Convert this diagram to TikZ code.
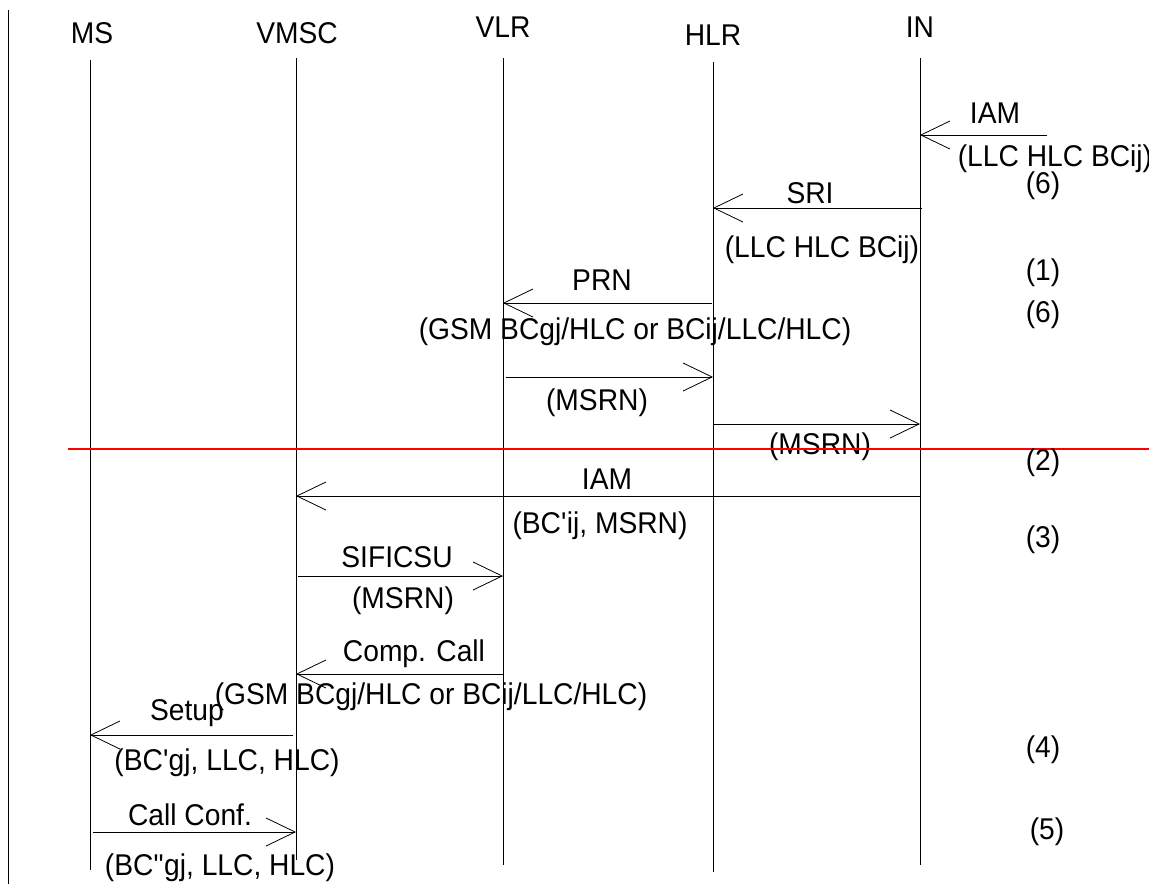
\documentclass[tikz,border=0pt]{standalone}
\usepackage{fontspec}
\setmainfont{Liberation Sans}[FakeStretch=0.94]
\usetikzlibrary{arrows.meta}

\begin{document}
\begin{tikzpicture}[x=1pt,y=-1pt,line width=0.8pt,
  font=\fontsize{30}{35}\selectfont,
  msg/.style={-{Straight Barb[length=29pt,width=28pt]}},
  lbl/.style={inner sep=0pt}]

\useasboundingbox (0,0) rectangle (1149,884);

\draw (8,10) -- (8,884);

% entities and their lifelines
\node[lbl] (ms) at (92,33) {MS};
\node[lbl] (vmsc) at (297,33) {VMSC};
\node[lbl] (vlr) at (503,27) {VLR};
\node[lbl] (hlr) at (713,35) {HLR};
\node[lbl] (in) at (920,27) {IN};

\coordinate (ms-t) at (90,60);   \coordinate (ms-b) at (90,870);
\coordinate (vmsc-t) at (296,58); \coordinate (vmsc-b) at (296,860);
\coordinate (vlr-t) at (503,58);  \coordinate (vlr-b) at (503,865);
\coordinate (hlr-t) at (713,62);  \coordinate (hlr-b) at (713,872);
\coordinate (in-t) at (920,58);   \coordinate (in-b) at (920,865);

\draw (ms-t) -- (ms-b);
\draw (vmsc-t) -- (vmsc-b);
\draw (vlr-t) -- (vlr-b);
\draw (hlr-t) -- (hlr-b);
\draw (in-t) -- (in-b);

% incoming IAM
\coordinate (iam-a) at (1047,135);
\draw[msg] (iam-a) -- (in-t |- iam-a);
\node[lbl] (iam) at (995,113) {IAM};
\node[lbl] (iam-p) at (1055,159) {(LLC HLC BCij)};

% SRI
\coordinate (sri-a) at (922,208);
\draw[msg] (sri-a) -- (hlr-t |- sri-a);
\node[lbl] (sri) at (810,193) {SRI};
\node[lbl] (sri-p) at (822,250) {(LLC HLC BCij)};

% PRN
\coordinate (prn-a) at (712,303);
\draw[msg] (prn-a) -- (vlr-t |- prn-a);
\node[lbl] (prn) at (602,280) {PRN};
\node[lbl] (prn-p) at (635,332) {(GSM BCgj/HLC or BCij/LLC/HLC)};

% MSRN back
\coordinate (ack1-a) at (506,377);
\draw[msg] (ack1-a) -- (hlr-t |- ack1-a);
\node[lbl] (ack1) at (597,403) {(MSRN)};

\coordinate (ack2-a) at (714,424);
\draw[msg] (ack2-a) -- (in-t |- ack2-a);
\node[lbl] (ack2) at (820,447) {(MSRN)};

% separator
\draw[red,line width=1.6pt] (68,449) -- (1149,449);

% IAM to VMSC
\coordinate (iam2-a) at (920,496);
\draw[msg] (iam2-a) -- (vmsc-t |- iam2-a);
\node[lbl] (iam2) at (607,479) {IAM};
\node[lbl] (iam2-p) at (600,526) {(BC\textquotesingle ij, MSRN)};

% SIFICSU
\coordinate (sif-a) at (298,576);
\draw[msg] (sif-a) -- (vlr-t |- sif-a);
\node[lbl] (sif) at (397,557) {SIFICSU};
\node[lbl] (sif-p) at (403,601) {(MSRN)};

% Comp. Call
\coordinate (cc-a) at (503,674);
\draw[msg] (cc-a) -- (vmsc-t |- cc-a);
\node[lbl] (cc) at (414,654) {Comp. Call};
\node[lbl] (cc-p) at (431,697) {(GSM BCgj/HLC or BCij/LLC/HLC)};

% Setup
\coordinate (su-a) at (293,735);
\draw[msg] (su-a) -- (ms-t |- su-a);
\node[lbl] (su) at (187,713) {Setup};
\node[lbl] (su-p) at (227,763) {(BC\textquotesingle gj, LLC, HLC)};

% Call Conf.
\coordinate (conf-a) at (93,832);
\draw[msg] (conf-a) -- (vmsc-t |- conf-a);
\node[lbl] (conf) at (190,815) {Call Conf.};
\node[lbl] (conf-p) at (220,868) {(BC\textquotedbl gj, LLC, HLC)};

% step numbers
\node[lbl] (n6a) at (1043,186) {(6)};
\node[lbl] (n1) at (1043,273) {(1)};
\node[lbl] (n6b) at (1043,315) {(6)};
\node[lbl] (n2) at (1043,463) {(2)};
\node[lbl] (n3) at (1043,540) {(3)};
\node[lbl] (n4) at (1043,750) {(4)};
\node[lbl] (n5) at (1047,832) {(5)};

\end{tikzpicture}
\end{document}
